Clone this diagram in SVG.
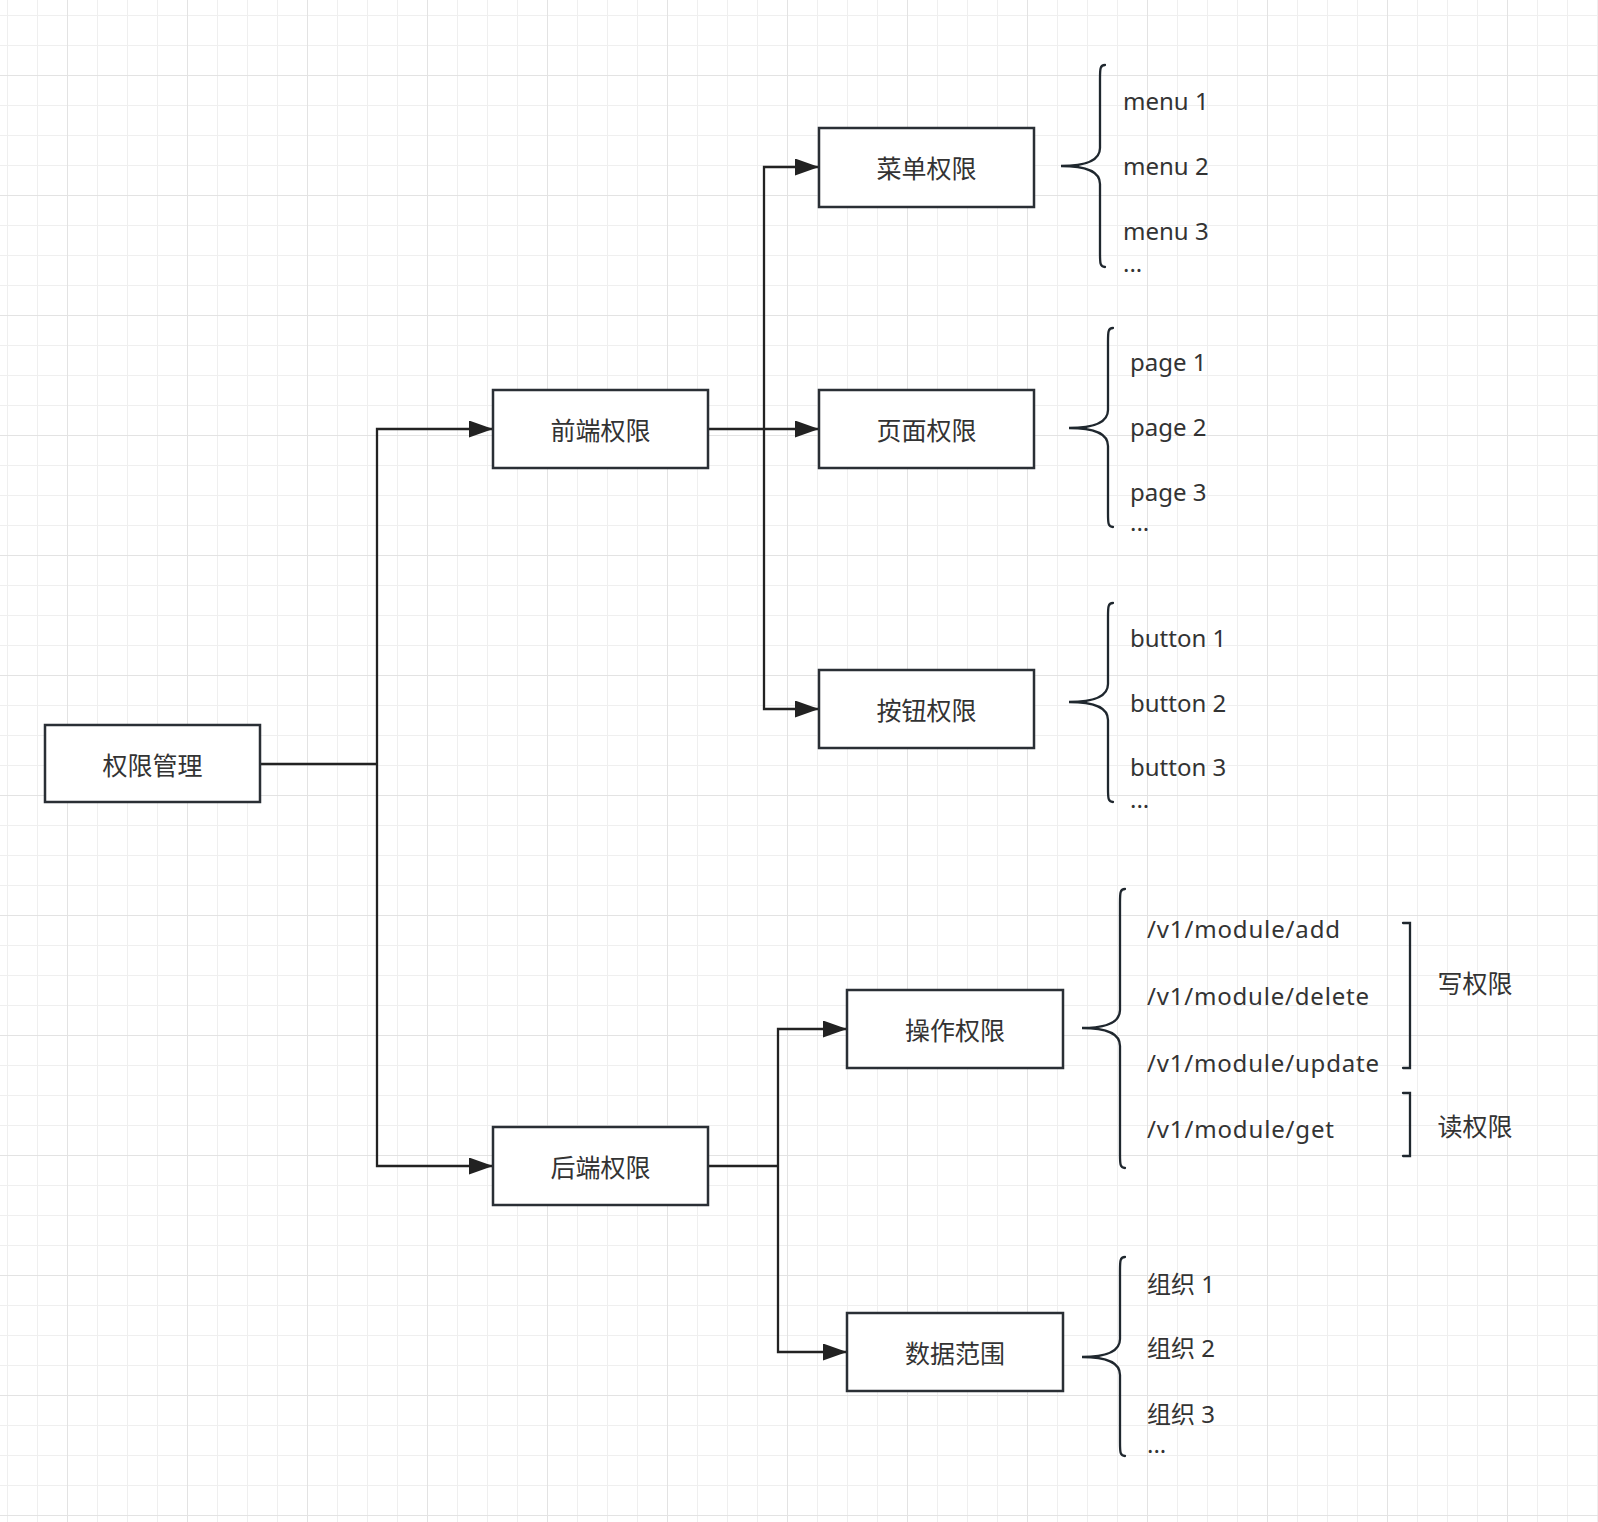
<svg xmlns="http://www.w3.org/2000/svg" width="1598" height="1522" viewBox="0 0 1598 1522">
<style>
.node rect{fill:#fff;stroke:#2a2f35;stroke-width:2.5}
.cjk{font-family:"Noto Sans CJK SC","Noto Sans",sans-serif;font-size:25px;fill:#333;text-anchor:middle;dominant-baseline:central}
.lat{font-family:"Noto Sans","Noto Sans CJK SC",sans-serif;font-size:24px;fill:#333}
.conn path{fill:none;stroke:#222;stroke-width:2.3}
.brace{fill:none;stroke:#1f272e;stroke-width:2.3;stroke-linecap:round}
</style>
<defs>
<pattern id="grid" patternUnits="userSpaceOnUse" x="7" y="15" width="120" height="120">
<path d="M0.5,0 V120 M30.5,0 V120 M90.5,0 V120 M0,0.5 H120 M0,30.5 H120 M0,90.5 H120" stroke="#efefef" stroke-width="1" fill="none"/>
<path d="M60.5,0 V120 M0,60.5 H120" stroke="#e3e3e3" stroke-width="1" fill="none"/>
</pattern>
<marker id="arr" markerUnits="userSpaceOnUse" viewBox="0 0 24 17" refX="24" refY="8.5" markerWidth="24" markerHeight="17" orient="auto">
<path d="M0,0 L24,8.5 L0,17 Z" fill="#222"/>
</marker>
</defs>
<rect width="1598" height="1522" fill="#fff"/>
<rect width="1598" height="1522" fill="url(#grid)"/>
<g class="conn" id="connectors">
<path d="M260,764 H377"/>
<path d="M377,764 V429 H493" marker-end="url(#arr)"/>
<path d="M377,764 V1166 H493" marker-end="url(#arr)"/>
<path d="M708,429 H819" marker-end="url(#arr)"/>
<path d="M764,429 V167 H819" marker-end="url(#arr)"/>
<path d="M764,429 V709 H819" marker-end="url(#arr)"/>
<path d="M708,1166 H778"/>
<path d="M778,1166 V1029 H847" marker-end="url(#arr)"/>
<path d="M778,1166 V1352 H847" marker-end="url(#arr)"/>
</g>
<g class="node" id="n-root"><rect x="45" y="725" width="215" height="77"/><text class="cjk" x="152.5" y="764">权限管理</text></g>
<g class="node" id="n-front"><rect x="493" y="390" width="215" height="78"/><text class="cjk" x="600.5" y="429">前端权限</text></g>
<g class="node" id="n-back"><rect x="493" y="1127" width="215" height="78"/><text class="cjk" x="600.5" y="1166">后端权限</text></g>
<g class="node" id="n-menu"><rect x="819" y="128" width="215" height="79"/><text class="cjk" x="926.5" y="167">菜单权限</text></g>
<g class="node" id="n-page"><rect x="819" y="390" width="215" height="78"/><text class="cjk" x="926.5" y="429">页面权限</text></g>
<g class="node" id="n-button"><rect x="819" y="670" width="215" height="78"/><text class="cjk" x="926.5" y="709">按钮权限</text></g>
<g class="node" id="n-op"><rect x="847" y="990" width="216" height="78"/><text class="cjk" x="955" y="1029">操作权限</text></g>
<g class="node" id="n-data"><rect x="847" y="1313" width="216" height="78"/><text class="cjk" x="955" y="1352">数据范围</text></g>
<g id="menu-list">
<path class="brace" d="M1105,65 C1100,65 1100,69 1100,79 L1100,148 C1100,160 1088,166 1061,166 C1088,166 1100,172 1100,184 L1100,253 C1100,263 1100,267 1105,267"/>
<text class="lat" x="1123" y="110">menu 1</text>
<text class="lat" x="1123" y="175">menu 2</text>
<text class="lat" x="1123" y="240">menu 3</text>
<text class="lat" x="1123" y="272">...</text>
</g>
<g id="page-list">
<path class="brace" d="M1113,328 C1108,328 1108,332 1108,342 L1108,410 C1108,422 1096,428 1069,428 C1096,428 1108,434 1108,446 L1108,513 C1108,523 1108,527 1113,527"/>
<text class="lat" x="1130" y="371">page 1</text>
<text class="lat" x="1130" y="436">page 2</text>
<text class="lat" x="1130" y="501">page 3</text>
<text class="lat" x="1130" y="531">...</text>
</g>
<g id="button-list">
<path class="brace" d="M1113,603 C1108,603 1108,607 1108,617 L1108,684 C1108,696 1096,702 1069,702 C1096,702 1108,708 1108,720 L1108,788 C1108,798 1108,802 1113,802"/>
<text class="lat" x="1130" y="647">button 1</text>
<text class="lat" x="1130" y="712">button 2</text>
<text class="lat" x="1130" y="776">button 3</text>
<text class="lat" x="1130" y="808">...</text>
</g>
<g id="op-list">
<path class="brace" d="M1125,889 C1120,889 1120,893 1120,903 L1120,1010 C1120,1022 1108,1028 1082,1028 C1108,1028 1120,1034 1120,1046 L1120,1154 C1120,1164 1120,1168 1125,1168"/>
<text class="lat" x="1147" y="938" textLength="193" lengthAdjust="spacing">/v1/module/add</text>
<text class="lat" x="1147" y="1005" textLength="222" lengthAdjust="spacing">/v1/module/delete</text>
<text class="lat" x="1147" y="1072" textLength="232" lengthAdjust="spacing">/v1/module/update</text>
<text class="lat" x="1147" y="1138" textLength="187" lengthAdjust="spacing">/v1/module/get</text>
<path class="brace" d="M1403,923 H1410 V1068 H1403"/>
<path class="brace" d="M1403,1093 H1410 V1156 H1403"/>
<text class="cjk" x="1475" y="982">写权限</text>
<text class="cjk" x="1475" y="1125">读权限</text>
</g>
<g id="data-list">
<path class="brace" d="M1125,1257 C1120,1257 1120,1261 1120,1271 L1120,1339 C1120,1351 1108,1357 1082,1357 C1108,1357 1120,1363 1120,1375 L1120,1442 C1120,1452 1120,1456 1125,1456"/>
<text class="lat" x="1147" y="1293">组织 1</text>
<text class="lat" x="1147" y="1357">组织 2</text>
<text class="lat" x="1147" y="1423">组织 3</text>
<text class="lat" x="1147" y="1453">...</text>
</g>
</svg>
